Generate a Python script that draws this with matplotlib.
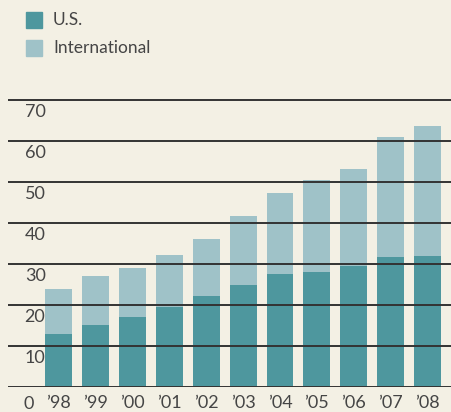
import matplotlib.pyplot as plt
from matplotlib.patches import Rectangle

# data
years = ["\u201998", "\u201999", "\u201900", "\u201901", "\u201902", "\u201903",
         "\u201904", "\u201905", "\u201906", "\u201907", "\u201908"]
us = [13, 15.1, 17.1, 19.5, 22.2, 24.9, 27.6, 28.0, 29.5, 31.7, 32.0]
intl = [10.9, 12.0, 11.9, 12.7, 13.9, 16.8, 19.7, 22.5, 23.7, 29.3, 31.7]
yticks = [10, 20, 30, 40, 50, 60, 70]

bg = '#f3f0e4'
c_us = '#4e979e'
c_intl = '#9fc2c8'
txt = '#454545'

plt.rcParams['font.family'] = ['Lato', 'DejaVu Sans']

W, H = 452, 412
fig = plt.figure(figsize=(W / 100, H / 100), dpi=100)
fig.patch.set_facecolor(bg)

# axes: left edge 8px, zero line at 387px, top at 90px
ax = fig.add_axes([8 / W, (H - 387) / H, 1 - 8 / W, (387 - 90) / H])
ax.set_facecolor(bg)
x = list(range(len(years)))
ax.bar(x, us, width=0.73, color=c_us, zorder=1)
ax.bar(x, intl, width=0.73, bottom=us, color=c_intl, zorder=1)

for v in [0] + yticks:
    ax.axhline(v, color='#333333', lw=1.4, zorder=3)
for v in yticks:
    ax.text(17 / W, v - 0.9, str(v), transform=ax.get_yaxis_transform(),
            ha='left', va='top', fontsize=13, color=txt)

ax.set_xlim(-1.37, 10.66)
ax.set_ylim(0, 72.4)
ax.set_xticks(x)
ax.set_xticklabels(years, fontsize=13, color=txt)
ax.tick_params(axis='x', length=0, pad=6)
ax.set_yticks([])
for s in ax.spines.values():
    s.set_visible(False)
ax.text(-0.8, -0.058, '0', transform=ax.get_xaxis_transform(), ha='center',
        va='center', fontsize=13, color=txt)

# legend
for i, (lab, col) in enumerate([('U.S.', c_us), ('International', c_intl)]):
    y0 = 12 + i * 28
    fig.patches.append(Rectangle((26 / W, 1 - (y0 + 16) / H), 16 / W, 16 / H,
                                 transform=fig.transFigure, color=col))
    fig.text(53 / W, 1 - (y0 + 8) / H, lab, ha='left', va='center',
             fontsize=12.5, color=txt)

fig.savefig('out.png', dpi=100, facecolor=bg)
